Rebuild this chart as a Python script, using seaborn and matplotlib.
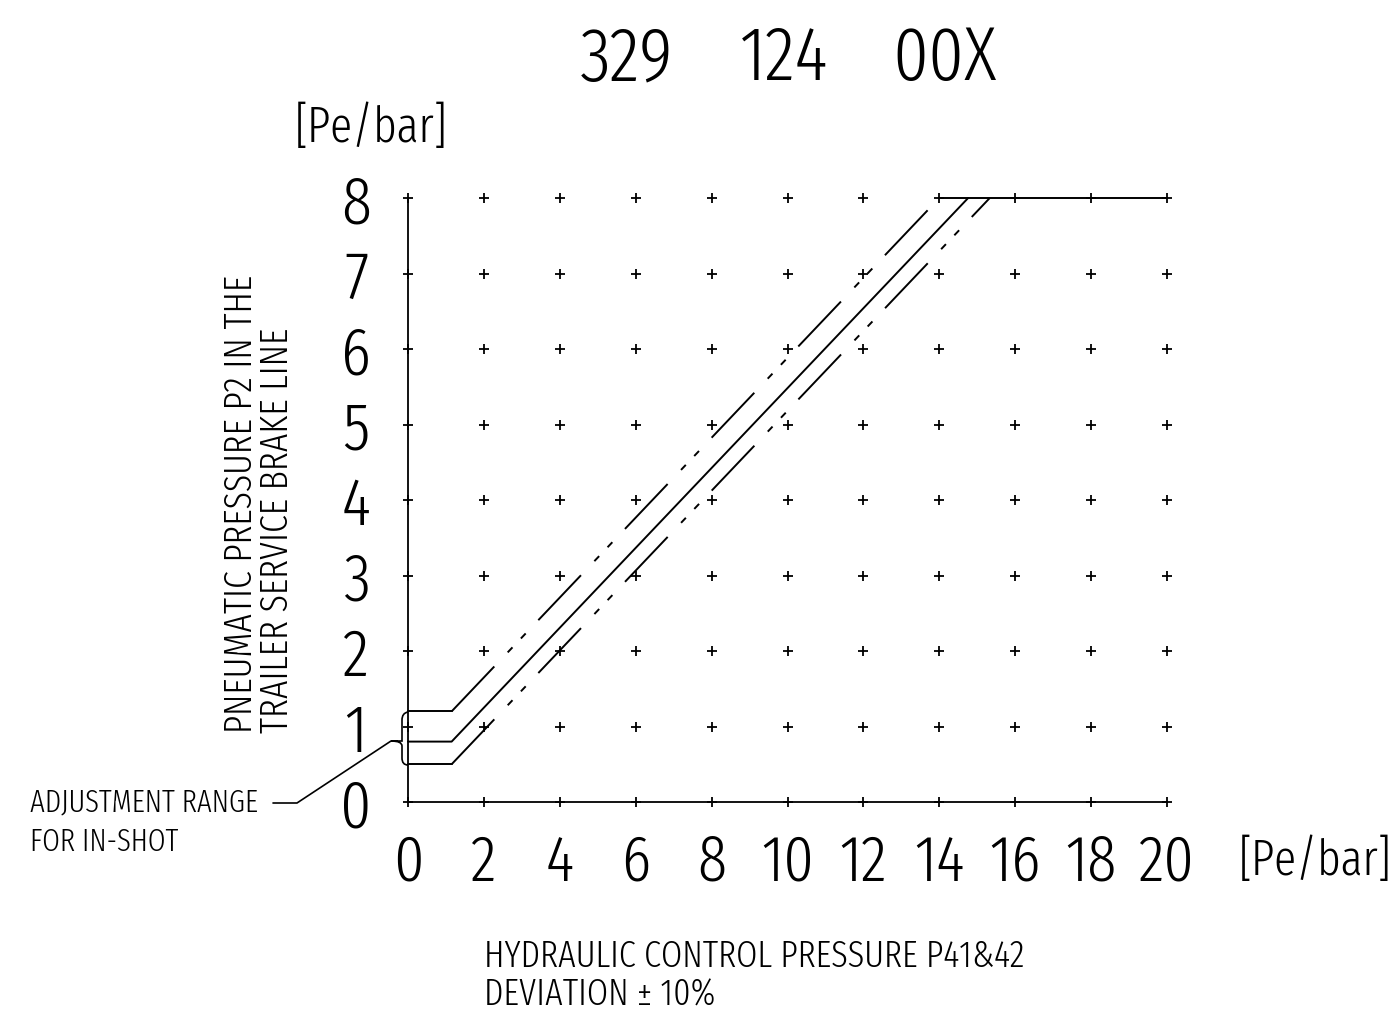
import os
import numpy as np
import pandas as pd
import seaborn as sns
import matplotlib
matplotlib.use("Agg")
import matplotlib.pyplot as plt
from matplotlib import font_manager as fm
from matplotlib.path import Path
from matplotlib.patches import PathPatch

# ---------------- data ----------------
x_ticks = [0, 2, 4, 6, 8, 10, 12, 14, 16, 18, 20]
y_ticks = [0, 1, 2, 3, 4, 5, 6, 7, 8]
x_tick_labels = [str(v) for v in x_ticks]
y_tick_labels = [str(v) for v in y_ticks]

knee_x = 1.15                 # end of the flat in-shot part
upper_start_y = 1.2           # upper tolerance line (dash-dot-dot)
nominal_start_y = 0.8         # nominal line (solid)
lower_start_y = 0.5           # lower tolerance line (dash-dot-dot)
max_pressure = 8.0
upper_end_x = 14.0
nominal_end_x = 14.76
lower_end_x = 15.33
plateau_x = [14.0, 20.0]

title_words = ["329", "124", "00X"]
unit_text = "[Pe/bar]"
ylabel_lines = ["PNEUMATIC PRESSURE P2 IN THE", "TRAILER SERVICE BRAKE LINE"]
xlabel_lines = ["HYDRAULIC CONTROL PRESSURE P41&42", "DEVIATION \u00b1 10%"]
note_lines = ["ADJUSTMENT RANGE", "FOR IN-SHOT"]

# ---------------- style ----------------
sns.set_theme(style="white")
plt.rcParams["lines.scale_dashes"] = False
plt.rcParams["font.family"] = ["DejaVu Sans"]


def pick_font():
    files = [f.fname for f in fm.fontManager.ttflist if f.fname.lower().endswith((".ttf", ".otf"))]

    def base(f):
        return os.path.basename(f).lower()

    tests = [
        lambda b: "extracondensedlight" in b or "extracondensed-light" in b,
        lambda b: "condensedlight" in b or "condensed-light" in b or "condlight" in b,
        lambda b: "semicondensedlight" in b,
        lambda b: ("cond" in b or "narrow" in b) and ("light" in b) and "italic" not in b,
        lambda b: "extracondensed." in b or "extracondensed-regular" in b,
        lambda b: "liberationsansnarrow-regular" in b,
        lambda b: ("cond" in b or "narrow" in b) and "bold" not in b and "italic" not in b
                  and "black" not in b and "medium" not in b and "thin" not in b,
    ]
    for tst in tests:
        cands = sorted(f for f in files if tst(base(f)))
        if cands:
            return fm.FontProperties(fname=cands[0]), base(cands[0])
    return fm.FontProperties(family="DejaVu Sans", weight="light"), "dejavu"


base_fp, font_key = pick_font()
cap_ratio = 0.714 if "noto" in font_key else (0.688 if "liberation" in font_key else 0.72)

W, H = 1400, 1017
fig = plt.figure(figsize=(W / 100, H / 100), dpi=100)
fig.patch.set_facecolor("white")
renderer = fig.canvas.get_renderer()

X0, X1 = 408, 1167
Y0, Y1 = 802, 198
ax = fig.add_axes([X0 / W, 1 - Y0 / H, (X1 - X0) / W, (Y0 - Y1) / H])
ax.set_xlim(0, 20)
ax.set_ylim(0, 8)
ax.set_facecolor("white")
for s in ["top", "right"]:
    ax.spines[s].set_visible(False)
for s in ["left", "bottom"]:
    ax.spines[s].set_color("black")
    ax.spines[s].set_linewidth(1.3)

px_x = 20 / (X1 - X0)
px_y = 8 / (Y0 - Y1)


def fp_size(size):
    f = base_fp.copy()
    f.set_size(size)
    return f


def size_for(text, target_px, rotated=False):
    t = fig.text(0, 0, text, fontproperties=fp_size(100), rotation=90 if rotated else 0)
    bb = t.get_window_extent(renderer)
    t.remove()
    meas = bb.height if rotated else bb.width
    return 100 * target_px / meas


def size_for_cap(cap_px):
    return cap_px / cap_ratio / (100 / 72)


# grid of "+" markers
gx, gy = np.meshgrid(x_ticks, y_ticks)
grid = pd.DataFrame({"x": gx.ravel(), "y": gy.ravel()})
sns.scatterplot(data=grid, x="x", y="y", marker="+", color="black", s=60,
                linewidth=1.3, ax=ax, legend=False, clip_on=False, zorder=3)

dash = (0, (44.6, 14.0, 5.0, 8.8, 5.0, 13.2))
lw_main = 1.4


def seg(xs, ys, ls="-"):
    sns.lineplot(x=xs, y=ys, color="black", linewidth=lw_main, linestyle=ls,
                 ax=ax, clip_on=False, zorder=4, sort=False, estimator=None)


# upper tolerance line
seg([0, knee_x], [upper_start_y, upper_start_y])
seg([knee_x, upper_end_x], [upper_start_y, max_pressure], dash)
# nominal line
seg([0, knee_x, nominal_end_x], [nominal_start_y, nominal_start_y, max_pressure])
# lower tolerance line
seg([0, knee_x], [lower_start_y, lower_start_y])
seg([knee_x, lower_end_x], [lower_start_y, max_pressure], dash)
# plateau
seg(plateau_x, [max_pressure, max_pressure])


# brace for adjustment range
def d(px, py):
    return ((px - X0) * px_x, (Y0 - py) * px_y)


verts = [d(408, 712), d(402, 713), d(402, 720), d(402, 734), d(402, 736),
         d(402, 741), d(391, 741), d(402, 741), d(402, 746), d(402, 748),
         d(402, 758), d(402, 765), d(408, 765)]
codes = [Path.MOVETO, Path.CURVE3, Path.CURVE3, Path.LINETO, Path.CURVE3, Path.CURVE3,
         Path.LINETO, Path.CURVE3, Path.CURVE3, Path.LINETO, Path.LINETO, Path.CURVE3, Path.CURVE3]
ax.add_patch(PathPatch(Path(verts, codes), fill=False, edgecolor="black", lw=1.2, clip_on=False))
lx, ly = zip(d(391, 741), d(297, 803), d(273, 803))
ax.plot(lx, ly, color="black", lw=1.2, clip_on=False)

# ticks
x_tick_size = min(size_for_cap(54), size_for("20", 56))
y_tick_size = min(size_for_cap(54), size_for("8", 30))
ax.set_xticks(x_ticks)
ax.set_yticks(y_ticks)
ax.set_xticklabels(x_tick_labels, fontproperties=fp_size(x_tick_size), color="black")
ax.set_yticklabels(y_tick_labels, fontproperties=fp_size(y_tick_size), color="black")
ax.tick_params(axis="x", length=0, pad=30 * 0.72)
for lab in ax.get_yticklabels():
    lab.set_horizontalalignment("center")
ax.tick_params(axis="y", length=0, pad=52 * 0.72)
ax.set_xlabel("")
ax.set_ylabel("")
ax.grid(False)


def ftext(px, py, s, size, ha="left", va="center", rot=0):
    fig.text(px / W, 1 - py / H, s, fontproperties=fp_size(size), ha=ha, va=va,
             rotation=rot, color="black")


# title (three groups spaced as in the drawing)
ts = size_for_cap(55)
for word, cx in zip(title_words, [626, 784, 945]):
    ftext(cx, 60, word, ts, ha="center")
# units
us = size_for(unit_text, 153)
ftext(371, 128, unit_text, us, ha="center")
ftext(1315, 861, unit_text, us, ha="center")
# y label (rotated)
ys1 = size_for(ylabel_lines[0], 460, rotated=True)
ftext(241, 733, ylabel_lines[0], ys1, ha="center", va="bottom", rot=90)
ftext(277, 733, ylabel_lines[1], ys1, ha="center", va="bottom", rot=90)
# x label
xs1 = size_for(xlabel_lines[0], 541)
ftext(484, 957, xlabel_lines[0], xs1)
ftext(484, 995, xlabel_lines[1], xs1)
# note
ns = size_for(note_lines[0], 228)
ftext(30, 803, note_lines[0], ns)
ftext(30, 842, note_lines[1], ns)

fig.savefig("out.png", dpi=100, facecolor="white")
